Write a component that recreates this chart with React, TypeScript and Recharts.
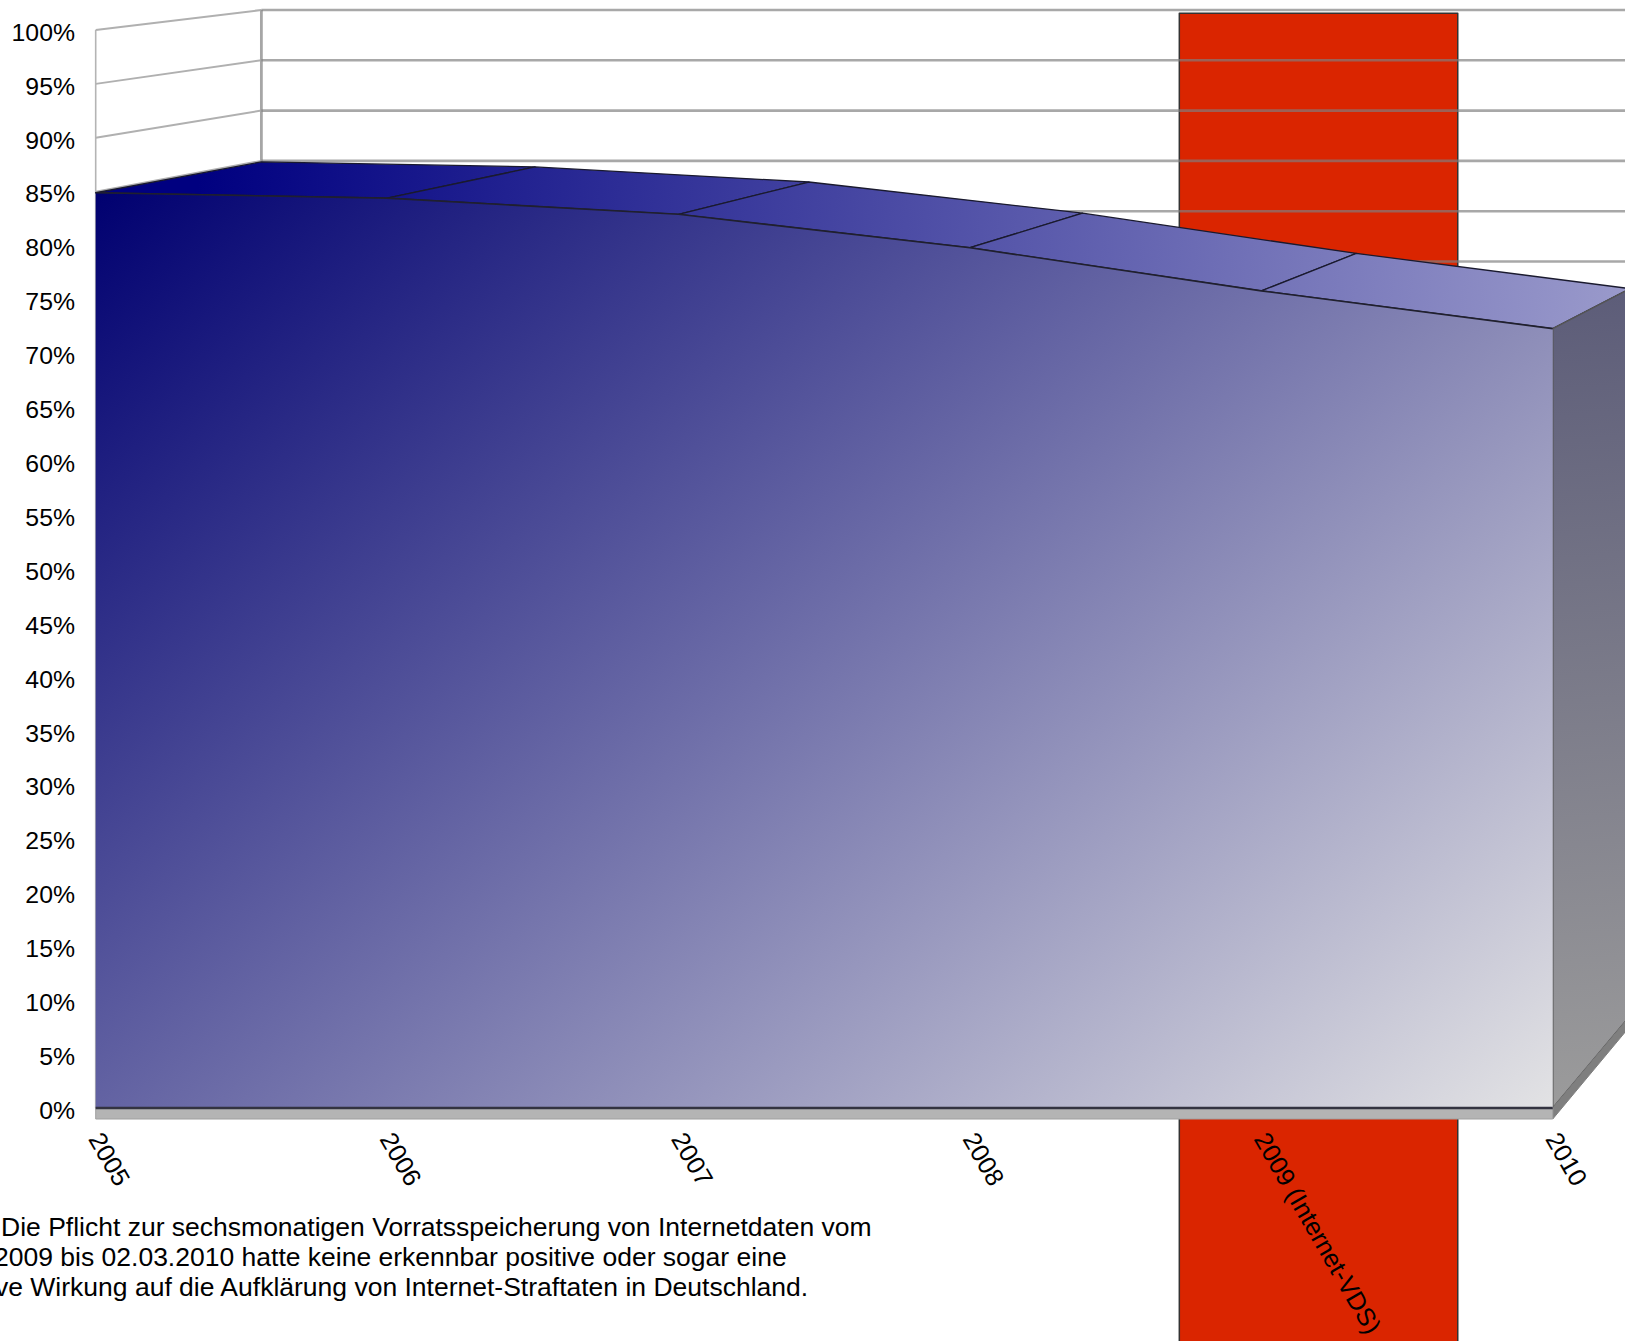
import React from "react";
import { ComposedChart, Area, Scatter, XAxis, YAxis } from "recharts";

const years = [2005, 2006, 2007, 2008, 2009, 2010];
const yearLabels = ["2005", "2006", "2007", "2008", "2009 (Internet-VDS)", "2010"];
const clearanceRate = [84.9, 84.4, 82.9, 79.8, 75.8, 72.3];
const percentTicks = [0, 5, 10, 15, 20, 25, 30, 35, 40, 45, 50, 55, 60, 65, 70, 75, 80, 85, 90, 95, 100];
const captionLines = [
  "Die Pflicht zur sechsmonatigen Vorratsspeicherung von Internetdaten vom",
  "2009 bis 02.03.2010 hatte keine erkennbar positive oder sogar eine",
  "ve Wirkung auf die Aufklärung von Internet-Straftaten in Deutschland.",
];
const captionLefts = [1, -6, -5];
const highlightYears = [2008.7185, 2009.674];
const highlightValues = [-21.89, 101.54];

const FONT = "'Liberation Sans', Arial, sans-serif";
const TICK_SIZE = 24.8;
const LABEL_SIZE = 25.4;
const CAPTION_SIZE = 26.5;
const FLOOR = -1.02;

// Oblique projection of the chart's 3D box onto the front plane's data units.
const project = (year: number, value: number, depth: number) => ({
  x: year + depth * (0.5686 - (year - 2005) * 0.0607),
  y: value + depth * (8.534 - 0.0668 * value),
});

const poly = (fill: string, stroke: string, strokeWidth: number, closed = true, opacity = 1) => (p: any) => {
  const d = p.points.map((q: any, i: number) => `${i ? "L" : "M"}${q.x} ${q.y}`).join(" ") + (closed ? " Z" : "");
  return <path d={d} fill={closed ? fill : "none"} stroke={stroke} strokeWidth={strokeWidth} strokeOpacity={opacity} strokeLinejoin="round" />;
};
const noDot = () => null as any;

const face = (key: string, z: number, pts: { x: number; y: number }[], fill: string, stroke: string, w: number, closed = true, opacity = 1) => (
  <Scatter key={key} zIndex={z} data={pts} line={poly(fill, stroke, w, closed, opacity)} shape={noDot} isAnimationActive={false} legendType="none" />
);

const lastYear = years[years.length - 1];
const firstYear = years[0];
const areaData = years.map((x, i) => ({ x, y: clearanceRate[i] }));
const backEndYear = 2010.36;

const XTick = (props: any) => {
  const { x, y, payload } = props;
  const label = yearLabels[years.indexOf(payload.value)];
  const px = x - 8;
  const py = y - 207;
  return (
    <text x={px} y={py} transform={`rotate(60 ${px} ${py})`} fontSize={LABEL_SIZE} fontFamily={FONT} fill="#000">
      {label}
    </text>
  );
};

export default function App() {
  return (
    <div style={{ position: "absolute", left: 0, top: 0, width: 1625, height: 1341, overflow: "hidden", background: "#fff" }}>
      <ComposedChart width={1660} height={1345} margin={{ top: 0, right: 0, bottom: 0, left: 0 }}>
        <defs>
          <linearGradient id="frontFace" x1="0" y1="0" x2="1.126" y2="0.873">
            <stop offset="0" stopColor="#000070" />
            <stop offset="1" stopColor="#e6e6e6" />
          </linearGradient>
          <linearGradient id="topFace" gradientUnits="userSpaceOnUse" x1="200" y1="170" x2="1625" y2="330">
            <stop offset="0" stopColor="#000080" />
            <stop offset="1" stopColor="#9a9acb" />
          </linearGradient>
          <linearGradient id="sideFace" gradientUnits="userSpaceOnUse" x1="1553" y1="300" x2="1625" y2="1100">
            <stop offset="0" stopColor="#5d5d79" />
            <stop offset="1" stopColor="#9b9b9b" />
          </linearGradient>
        </defs>
        <XAxis
          type="number"
          dataKey="x"
          scale="linear"
          domain={[2004.929, 2010.368]}
          ticks={years}
          interval={0}
          height={1}
          axisLine={false}
          tickLine={false}
          tickSize={0}
          tick={<XTick />}
        />
        <YAxis
          type="number"
          dataKey="y"
          scale="linear"
          domain={[-21.89, 102.78]}
          ticks={percentTicks}
          interval={0}
          width={75}
          axisLine={false}
          tickLine={false}
          tickSize={0}
          tickMargin={0}
          tickFormatter={(v: number) => `${v}%`}
          tick={{ fontSize: TICK_SIZE, fontFamily: FONT, fill: "#000", dy: 2 }}
        />

        {percentTicks.map((v) =>
          face(`wall-${v}`, 10, [project(firstYear, v, 0), project(firstYear, v, 1)], "none", "#b0b0b0", 2, false)
        )}
        {face("wall-front-edge", 10, [project(firstYear, 0, 0), project(firstYear, 100, 0)], "none", "#b4b4b4", 1.6, false)}
        {face("wall-back-edge", 10, [project(firstYear, 0, 1), project(firstYear, 100, 1)], "none", "#a6a6a6", 2.8, false)}

        {face(
          "highlight",
          20,
          [
            { x: highlightYears[0], y: highlightValues[1] },
            { x: highlightYears[1], y: highlightValues[1] },
            { x: highlightYears[1], y: highlightValues[0] },
            { x: highlightYears[0], y: highlightValues[0] },
          ],
          "#da2500",
          "#333",
          1.5
        )}

        {percentTicks.map((v) =>
          face(`back-${v}`, 30, [project(firstYear, v, 1), { x: backEndYear, y: project(firstYear, v, 1).y }], "none", "#7f7f7f", 2.6, false, 0.68)
        )}

        {years.slice(0, -1).map((year, i) =>
          face(
            `top-${year}`,
            40,
            [
              project(year, clearanceRate[i], 0),
              project(years[i + 1], clearanceRate[i + 1], 0),
              project(years[i + 1], clearanceRate[i + 1], 1),
              project(year, clearanceRate[i], 1),
            ],
            "url(#topFace)",
            "#1a1a2e",
            1.3
          )
        )}
        {face(
          "side",
          50,
          [
            project(lastYear, clearanceRate[5], 0),
            project(lastYear, clearanceRate[5], 1),
            project(lastYear, 0, 1),
            project(lastYear, 0, 0),
          ],
          "url(#sideFace)",
          "#555",
          1.5
        )}
        {face(
          "floor-side",
          50,
          [project(lastYear, 0, 0), project(lastYear, 0, 1), project(lastYear, FLOOR, 1), project(lastYear, FLOOR, 0)],
          "#7f7f7f",
          "#7f7f7f",
          1
        )}
        {face(
          "floor-front",
          55,
          [project(firstYear, 0, 0), project(lastYear, 0, 0), project(lastYear, FLOOR, 0), project(firstYear, FLOOR, 0)],
          "#b4b4b4",
          "#a0a0a0",
          1
        )}
        <Area
          zIndex={60}
          data={areaData}
          dataKey="y"
          type="linear"
          fill="url(#frontFace)"
          fillOpacity={1}
          stroke="#20202e"
          strokeWidth={1.6}
          dot={false}
          activeDot={false}
          isAnimationActive={false}
        />
        {face("base-line", 70, [project(firstYear, 0, 0), project(lastYear, 0, 0)], "none", "#333340", 2.4, false)}
      </ComposedChart>
      {captionLines.map((line, i) => (
        <div
          key={line}
          style={{
            position: "absolute",
            left: captionLefts[i],
            top: 1212 + i * 30,
            fontFamily: FONT,
            fontSize: CAPTION_SIZE,
            lineHeight: "30px",
            whiteSpace: "nowrap",
            color: "#000",
          }}
        >
          {line}
        </div>
      ))}
    </div>
  );
}
